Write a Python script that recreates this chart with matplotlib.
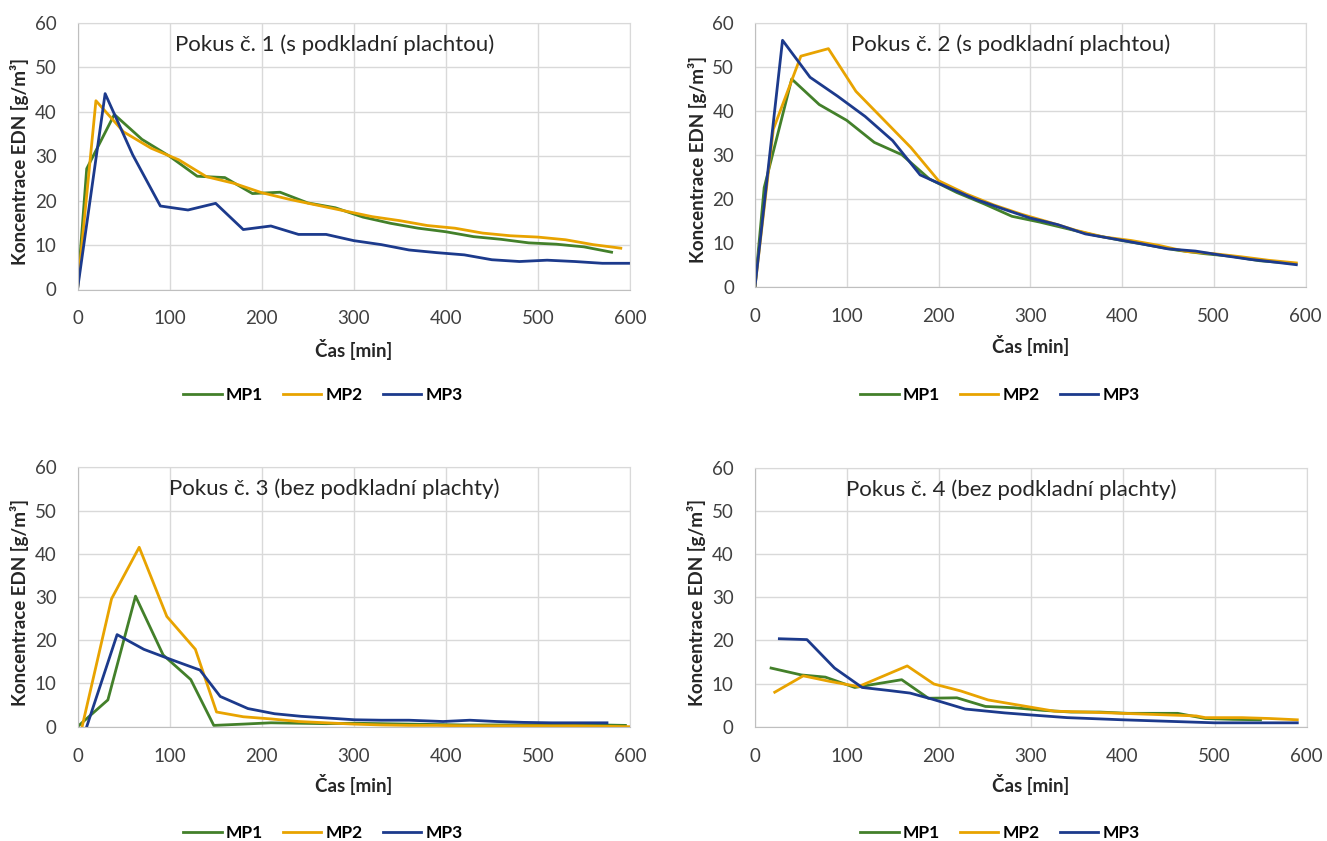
import matplotlib
matplotlib.use("Agg")
import matplotlib.pyplot as plt

plt.rcParams['font.family'] = ['Lato', 'DejaVu Sans']

# Pokus 1 (s podkladni plachtou)
p1_t1 = [0, 10, 40, 70, 100, 130, 160, 190, 220, 250, 280, 310, 340, 370, 400, 430, 460, 490, 520, 550, 580]
p1_mp1 = [0, 27.2, 39.4, 33.8, 30.0, 25.5, 25.2, 21.6, 21.9, 19.5, 18.4, 16.3, 14.9, 13.8, 13.0, 11.9, 11.3, 10.5, 10.2, 9.6, 8.4]
p1_t2 = [0, 20, 50, 80, 110, 140, 170, 200, 230, 260, 290, 320, 350, 380, 410, 440, 470, 500, 530, 560, 590]
p1_mp2 = [0, 42.5, 35.5, 31.8, 29.2, 25.4, 23.9, 21.8, 20.3, 19.0, 17.7, 16.4, 15.5, 14.4, 13.8, 12.7, 12.1, 11.8, 11.2, 10.1, 9.3]
p1_t3 = [0, 30, 60, 90, 120, 150, 180, 210, 240, 270, 300, 330, 360, 390, 420, 450, 480, 510, 540, 570, 600]
p1_mp3 = [0, 44.1, 30.3, 18.8, 17.9, 19.4, 13.5, 14.3, 12.4, 12.4, 11.0, 10.1, 8.9, 8.3, 7.8, 6.7, 6.3, 6.6, 6.3, 5.9, 5.9]

# Pokus 2 (s podkladni plachtou)
p2_t1 = [0, 10, 40, 70, 100, 130, 160, 190, 220, 250, 280, 310, 340, 370, 400, 430, 460, 490, 520, 550, 580]
p2_mp1 = [0, 22.5, 47.2, 41.4, 37.8, 32.8, 30.0, 24.5, 21.4, 18.8, 16.0, 14.7, 13.2, 11.7, 10.5, 9.4, 8.3, 7.5, 6.9, 5.9, 5.4]
p2_t2 = [0, 20, 50, 80, 110, 140, 170, 200, 230, 260, 290, 320, 350, 380, 410, 440, 470, 500, 530, 560, 590]
p2_mp2 = [0, 35.8, 52.4, 54.1, 44.4, 38.0, 31.6, 24.1, 21.1, 18.6, 16.5, 14.7, 12.8, 11.3, 10.5, 9.4, 8.0, 7.5, 6.8, 6.0, 5.4]
p2_t3 = [0, 30, 60, 90, 120, 150, 180, 210, 240, 270, 300, 330, 360, 390, 420, 450, 480, 510, 540, 570, 590]
p2_mp3 = [0, 56.0, 47.6, 43.3, 38.7, 33.2, 25.4, 22.6, 19.9, 17.7, 15.6, 14.1, 12.0, 10.9, 9.8, 8.6, 8.1, 7.1, 6.2, 5.5, 5.0]

# Pokus 3 (bez podkladni plachty)
p3_t1 = [0, 33, 63, 93, 123, 148, 180, 210, 240, 270, 300, 330, 360, 390, 420, 450, 480, 510, 540, 570, 595]
p3_mp1 = [0, 6.2, 30.2, 16.6, 10.9, 0.3, 0.6, 0.9, 0.8, 0.7, 0.8, 0.7, 0.6, 0.5, 0.4, 0.4, 0.4, 0.4, 0.4, 0.4, 0.3]
p3_t2 = [5, 37, 67, 97, 128, 151, 180, 210, 240, 270, 300, 330, 360, 390, 420, 450, 480, 510, 540, 570, 600]
p3_mp2 = [0, 29.6, 41.5, 25.5, 17.9, 3.4, 2.3, 1.8, 1.2, 0.9, 0.6, 0.4, 0.3, 0.3, 0.2, 0.2, 0.2, 0.2, 0.2, 0.1, 0.0]
p3_t3 = [10, 43, 72, 102, 133, 155, 185, 214, 243, 272, 301, 330, 360, 397, 426, 455, 484, 515, 545, 575]
p3_mp3 = [0, 21.3, 17.9, 15.5, 13.1, 7.0, 4.2, 3.0, 2.4, 2.0, 1.6, 1.5, 1.5, 1.2, 1.5, 1.2, 1.0, 0.9, 0.9, 0.9]

# Pokus 4 (bez podkladni plachty)
p4_t1 = [18, 51, 77, 109, 160, 189, 220, 251, 282, 313, 344, 375, 406, 437, 460, 490, 520, 550]
p4_mp1 = [13.6, 12.0, 11.5, 9.1, 10.9, 6.6, 6.7, 4.7, 4.4, 3.8, 3.4, 3.4, 3.1, 3.1, 3.1, 1.9, 1.7, 1.6]
p4_t2 = [22, 53, 82, 113, 166, 195, 224, 254, 290, 326, 360, 400, 440, 480, 490, 530, 560, 590]
p4_mp2 = [8.0, 11.8, 10.5, 9.3, 14.1, 9.9, 8.3, 6.2, 4.9, 3.6, 3.4, 3.1, 2.8, 2.5, 2.1, 2.1, 1.9, 1.6]
p4_t3 = [27, 57, 87, 117, 146, 169, 193, 229, 272, 302, 340, 400, 450, 500, 590]
p4_mp3 = [20.4, 20.2, 13.6, 9.1, 8.4, 7.8, 6.4, 4.1, 3.2, 2.7, 2.1, 1.6, 1.25, 0.9, 0.9]

titles = ['Pokus č. 1 (s podkladní plachtou)', 'Pokus č. 2 (s podkladní plachtou)',
          'Pokus č. 3 (bez podkladní plachty)', 'Pokus č. 4 (bez podkladní plachty)']
series = [
    [(p1_t1, p1_mp1), (p1_t2, p1_mp2), (p1_t3, p1_mp3)],
    [(p2_t1, p2_mp1), (p2_t2, p2_mp2), (p2_t3, p2_mp3)],
    [(p3_t1, p3_mp1), (p3_t2, p3_mp2), (p3_t3, p3_mp3)],
    [(p4_t1, p4_mp1), (p4_t2, p4_mp2), (p4_t3, p4_mp3)],
]
names = ['MP1', 'MP2', 'MP3']
colors = ['#43802a', '#e8a300', '#1c3a8c']

W, H = 1327, 841
# plot areas in pixels: left, right, top, bottom
boxes = [(77.5, 630, 23, 289.5), (755, 1305.5, 22.7, 286.7),
         (77.5, 630, 467.3, 726.7), (754.5, 1306.5, 468, 726.7)]
legend_x = [323, 1000]
legend_y = [395, 833]

fig = plt.figure(figsize=(W / 100, H / 100), dpi=100)

for i, (l, r, t, b) in enumerate(boxes):
    ax = fig.add_axes([l / W, 1 - b / H, (r - l) / W, (b - t) / H])
    for (x, y), c, n in zip(series[i], colors, names):
        ax.plot(x, y, color=c, lw=2, label=n)
    ax.set_xlim(0, 600)
    ax.set_ylim(0, 60)
    ax.set_xticks(range(0, 601, 100))
    ax.set_yticks(range(0, 61, 10))
    ax.grid(True, color='#d9d9d9', lw=1)
    ax.set_axisbelow(True)
    for s in ax.spines.values():
        s.set_color('#d9d9d9')
    ax.spines['left'].set_color('#bfbfbf')
    ax.spines['bottom'].set_color('#bfbfbf')
    ax.tick_params(length=0, labelsize=13.5, labelcolor='#404040', pad=15)
    ax.text(0.465, 0.917, titles[i], transform=ax.transAxes, ha='center', va='center',
            fontsize=16, color='#262626')
    ax.set_xlabel('Čas [min]', fontsize=13.5, fontweight='bold', color='#262626')
    ax.xaxis.set_label_coords(0.5, -(349 - 289.5) / 266.5)
    ax.xaxis.label.set_va('center')
    ax.set_ylabel('Koncentrace EDN [g/m³]', fontsize=13.5, fontweight='bold', color='#262626')
    ax.yaxis.set_label_coords(-58 / 552, 0.48)
    ax.yaxis.label.set_va('center')
    fig.legend(*ax.get_legend_handles_labels(), loc='center',
               bbox_to_anchor=(legend_x[i % 2] / W, 1 - legend_y[i // 2] / H),
               ncol=3, frameon=False, prop={'weight': 'bold', 'size': 12.5},
               handlelength=2.2, handletextpad=0.25, columnspacing=1.15)

fig.savefig('out.png', dpi=100)
